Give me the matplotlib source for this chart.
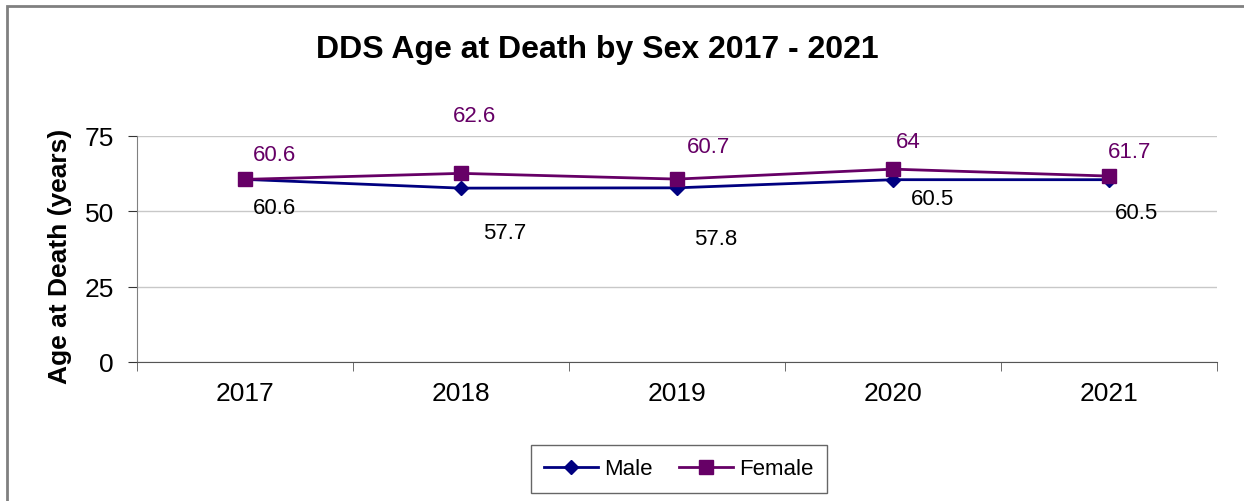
import matplotlib.pyplot as plt
from matplotlib.patches import Rectangle

plt.rcParams['font.family'] = ['Liberation Sans', 'DejaVu Sans']

years = ["2017", "2018", "2019", "2020", "2021"]
male = [60.6, 57.7, 57.8, 60.5, 60.5]
female = [60.6, 62.6, 60.7, 64, 61.7]

# label offsets in pixels (dx, dy)
male_off = [(29, -28), (44, -44), (39, -51), (39, -19), (28, -33)]
female_off = [(29, 25), (13, 58), (31, 33), (15, 28), (21, 25)]

male_col = "#000080"
female_col = "#660066"

fig = plt.figure(figsize=(12.44, 5.02), dpi=100)
W, H = 1244, 502
ax = fig.add_axes([137 / W, 1 - 363 / H, 1080 / W, 226 / H])

x = range(len(years))
ax.plot(x, male, color=male_col, lw=2, marker="D", ms=7, label="Male", zorder=3)
ax.plot(x, female, color=female_col, lw=2, marker="s", ms=10, label="Female", zorder=3)

for i in x:
    ax.annotate(str(female[i]), (i, female[i]), xytext=female_off[i], textcoords="offset pixels",
                ha="center", va="center", fontsize=16, color=female_col)
    ax.annotate(str(male[i]), (i, male[i]), xytext=male_off[i], textcoords="offset pixels",
                ha="center", va="center", fontsize=16, color="black")

ax.set_xlim(-0.5, 4.5)
ax.set_ylim(0, 75)
ax.set_yticks([0, 25, 50, 75])
ax.set_xticks(list(x))
ax.set_xticklabels(years)
ax.set_xticks([i - 0.5 for i in range(6)], minor=True)
ax.tick_params(axis="x", which="major", length=0, labelsize=19, pad=14)
ax.tick_params(axis="x", which="minor", length=6.5, color="#555555", direction="out")
ax.tick_params(axis="y", length=6.5, color="#333333", labelsize=19, direction="out", pad=10)
ax.grid(axis="y", color="#c8c8c8", lw=1)
ax.set_axisbelow(True)
for s in ["top", "right"]:
    ax.spines[s].set_visible(False)
ax.spines["left"].set_color("#808080")
ax.spines["bottom"].set_color("#555555")

ax.set_ylabel("Age at Death (years)", fontsize=19, fontweight="bold", va="center")
ax.yaxis.set_label_coords((60 - 137) / 1080, 0.5 + (363 - 256 - 113) / 226)
fig.text(597 / W, 1 - 50 / H, "DDS Age at Death by Sex 2017 - 2021", ha="center", va="center",
         fontsize=23, fontweight="bold")

leg = fig.legend(loc="center", bbox_to_anchor=(679 / W, 1 - 470 / H), ncol=2, fontsize=16,
                 frameon=True, fancybox=False, edgecolor="#404040", handlelength=2.4,
                 columnspacing=1.2, borderpad=0.6, handletextpad=0.3)
leg.get_frame().set_linewidth(1)

fig.patches.append(Rectangle((7 / W, -0.1), 1.2, 1 - 7 / H + 0.1, transform=fig.transFigure,
                             fill=False, edgecolor="#808080", lw=2))

fig.savefig("out.png", dpi=100)
